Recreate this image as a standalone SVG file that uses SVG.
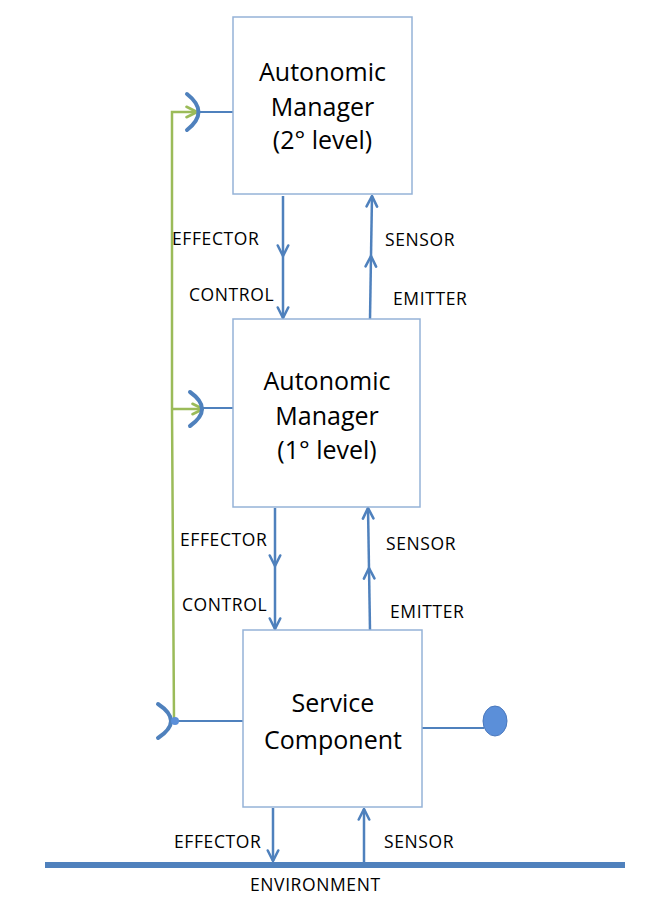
<svg xmlns="http://www.w3.org/2000/svg" width="654" height="898" viewBox="0 0 654 898">
<defs>
<style>
.box{fill:#fff;stroke:#95b3d7;stroke-width:1.5}
.big{font-family:"Open Sans","Liberation Sans",sans-serif;font-size:25px;fill:#000;text-anchor:middle}
.lbl{font-family:"Open Sans","Liberation Sans",sans-serif;font-size:17.5px;fill:#000;letter-spacing:0.6px}
.blue{stroke:#4f81bd;stroke-width:2.5;fill:none}
.green{stroke:#9bbb59;stroke-width:2.5;fill:none}
</style>
<marker id="ah" markerUnits="userSpaceOnUse" markerWidth="14" markerHeight="14" viewBox="-1 -1 12 12" refX="10" refY="5" orient="auto">
<path d="M1,0.5 L10,5 L1,9.5" fill="none" stroke="#4f81bd" stroke-width="2.2" stroke-linecap="round" stroke-linejoin="round"/>
</marker>
<marker id="ag" markerUnits="userSpaceOnUse" markerWidth="14" markerHeight="14" viewBox="-1 -1 12 12" refX="10" refY="5" orient="auto">
<path d="M1,0.5 L10,5 L1,9.5" fill="none" stroke="#9bbb59" stroke-width="2.2" stroke-linecap="round" stroke-linejoin="round"/>
</marker>
</defs>
<rect width="654" height="898" fill="#fff"/>

<g id="connectors">
<line class="blue" x1="283" y1="196" x2="283" y2="256" marker-end="url(#ah)"/>
<line class="blue" x1="283" y1="256" x2="283" y2="318" marker-end="url(#ah)"/>
<line class="blue" x1="370" y1="319" x2="371" y2="256" marker-end="url(#ah)"/>
<line class="blue" x1="371" y1="256" x2="372" y2="196" marker-end="url(#ah)"/>
<line class="blue" x1="275" y1="508" x2="275" y2="566" marker-end="url(#ah)"/>
<line class="blue" x1="275" y1="566" x2="275" y2="629" marker-end="url(#ah)"/>
<line class="blue" x1="370" y1="630" x2="369" y2="568" marker-end="url(#ah)"/>
<line class="blue" x1="369" y1="568" x2="368" y2="508" marker-end="url(#ah)"/>
<line class="blue" x1="273" y1="808" x2="273" y2="861" marker-end="url(#ah)"/>
<line class="blue" x1="364" y1="862" x2="364" y2="809" marker-end="url(#ah)"/>
<line x1="45" y1="865" x2="625" y2="865" stroke="#4f81bd" stroke-width="6"/>
<polyline class="green" points="174,720 172,409 172,112 197,112" marker-end="url(#ag)"/>
<line class="green" x1="172" y1="409" x2="203" y2="409" marker-end="url(#ag)"/>
<line x1="199" y1="112" x2="233" y2="112" stroke="#4f81bd" stroke-width="2"/>
<line x1="203" y1="408" x2="233" y2="408" stroke="#4f81bd" stroke-width="2"/>
<line x1="175" y1="721" x2="243" y2="721" stroke="#4f81bd" stroke-width="2"/>
<line x1="422" y1="728" x2="484" y2="728" stroke="#4f81bd" stroke-width="2"/>
<path d="M187,94 Q210,112 187,130" stroke="#4f81bd" stroke-width="4" fill="none" stroke-linecap="round"/>
<path d="M190,392 Q214,409 190,426" stroke="#4f81bd" stroke-width="4" fill="none" stroke-linecap="round"/>
<path d="M158,704 Q184,721 158,738" stroke="#4f81bd" stroke-width="4" fill="none" stroke-linecap="round"/>
<circle cx="175" cy="721" r="4" fill="#5b8fd9"/>
<ellipse cx="495" cy="721" rx="12" ry="15" fill="#5b8fd9" stroke="#4a78bd" stroke-width="1"/>
</g>

<g id="am2">
<rect class="box" x="233" y="17" width="179" height="177"/>
<text class="big" x="322.5" y="81">Autonomic</text>
<text class="big" x="322.5" y="116">Manager</text>
<text class="big" x="322.5" y="149">(2° level)</text>
</g>

<g id="am1">
<rect class="box" x="233" y="319" width="187" height="188"/>
<text class="big" x="327" y="390">Autonomic</text>
<text class="big" x="327" y="425">Manager</text>
<text class="big" x="327" y="459">(1° level)</text>
</g>

<g id="sc">
<rect class="box" x="243" y="630" width="179" height="177"/>
<text class="big" x="333" y="712">Service</text>
<text class="big" x="333" y="749">Component</text>
</g>

<g id="labels">
<text class="lbl" x="172" y="245">EFFECTOR</text>
<text class="lbl" x="189" y="301">CONTROL</text>
<text class="lbl" x="385" y="246">SENSOR</text>
<text class="lbl" x="393" y="305">EMITTER</text>
<text class="lbl" x="180" y="546">EFFECTOR</text>
<text class="lbl" x="182" y="611">CONTROL</text>
<text class="lbl" x="386" y="550">SENSOR</text>
<text class="lbl" x="390" y="618">EMITTER</text>
<text class="lbl" x="174" y="848">EFFECTOR</text>
<text class="lbl" x="384" y="848">SENSOR</text>
<text class="lbl" x="250" y="891">ENVIRONMENT</text>
</g>
</svg>
